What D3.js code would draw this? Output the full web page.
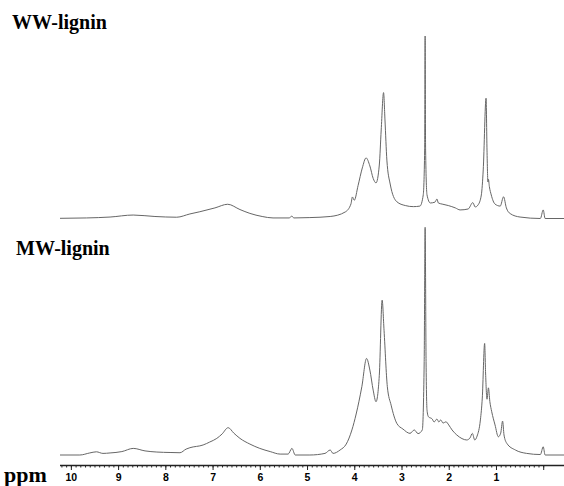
<!DOCTYPE html>
<html>
<head>
<meta charset="utf-8">
<script src="https://cdn.jsdelivr.net/npm/d3@7"></script>
<style>
  body { margin: 0; background: #fff; }
  svg { display: block; }
  .title { font-family: "Liberation Serif", "Times New Roman", serif; font-weight: bold; font-size: 20px; fill: #000; }
  .spec { fill: none; stroke: #666; stroke-width: 1; }
  .axis text { font-family: "Liberation Sans", Arial, sans-serif; font-weight: bold; font-size: 10.5px; }
</style>
</head>
<body>
<svg id="chart" width="564" height="486"></svg>
<script>
// chemical shifts (ppm) and intensities (DMSO peak = 100)
const wwPpm = [10.23, 9.67, 9.17, 8.68, 8.22, 7.76, 7.48, 7.27, 6.95, 6.68, 6.42, 6.21, 5.95, 5.72, 5.38, 5.32, 5.28,
  4.94, 4.51, 4.19, 4.07, 4.04, 4.0, 3.92, 3.83, 3.75, 3.67, 3.6, 3.54, 3.47, 3.43, 3.38, 3.35, 3.31, 3.24, 3.1,
  2.92, 2.75, 2.61, 2.54, 2.51, 2.5, 2.49, 2.46, 2.39, 2.29, 2.25, 2.22, 2.14, 2.01, 1.86, 1.76, 1.59, 1.49, 1.44,
  1.38, 1.31, 1.27, 1.21, 1.19, 1.17, 1.16, 1.14, 1.1, 1.02, 0.91, 0.84, 0.78, 0.7, 0.49, 0.06, 0.0, -0.04, -0.44];
const wwInt = [0.1, 0.3, 0.8, 1.9, 1.1, 0.7, 2.5, 3.7, 5.8, 7.8, 4.9, 2.8, 1.1, 0.3, 0.3, 1.3, 0.3,
  0.5, 1.1, 3.6, 8, 11.8, 10, 18, 27.7, 33.2, 28.8, 22, 19.5, 29.3, 48.5, 69, 54, 32, 18.9, 9.2,
  7.1, 6.5, 6.8, 12.9, 37.5, 100, 37.5, 12.9, 8.5, 9, 10.7, 8.5, 7.9, 7.1, 5.8, 4.7, 5.2, 8.7, 6.3,
  7.4, 12.9, 26.6, 65.9, 37.5, 20, 21.5, 17.5, 12.9, 7.9, 6.8, 11.9, 5.8, 2.7, 0.8, 0, 4.7, 0, 0];

const mwPpm = [10.23, 9.81, 9.6, 9.46, 9.32, 9.17, 8.92, 8.68, 8.43, 8.18, 7.9, 7.69, 7.56, 7.48, 7.2, 7.06, 6.91,
  6.8, 6.67, 6.55, 6.42, 6.21, 6.0, 5.78, 5.57, 5.4, 5.32, 5.25, 4.94, 4.62, 4.51, 4.45, 4.3, 4.17, 4.05, 3.96,
  3.84, 3.74, 3.67, 3.6, 3.54, 3.47, 3.41, 3.37, 3.3, 3.22, 3.1, 2.97, 2.82, 2.73, 2.65, 2.56, 2.52, 2.5, 2.48,
  2.46, 2.43, 2.35, 2.31, 2.25, 2.21, 2.17, 2.12, 2.06, 2.0, 1.93, 1.83, 1.72, 1.62, 1.55, 1.5, 1.45, 1.4, 1.33,
  1.29, 1.24, 1.22, 1.19, 1.16, 1.13, 1.09, 1.02, 0.95, 0.9, 0.86, 0.83, 0.77, 0.59, 0.35, 0.06, 0.0, -0.04, -0.44];
const mwInt = [0, 0, 0.9, 1.4, 0.7, 0.9, 1.5, 2.9, 1.8, 1.3, 1.1, 1.0, 2.6, 3.2, 4.4, 5.7, 7.3,
  9.2, 12, 9.6, 7.3, 4.8, 2.9, 1.5, 0.4, 0.4, 2.9, 0, 0, 0.7, 2.2, 0.7, 2.2, 4.8, 11, 18,
  30, 42.4, 37.3, 28.5, 23.4, 35, 68, 54.8, 30, 21.9, 13.9, 11.4, 9.5, 11, 9.4, 11, 41, 100, 41,
  19.7, 16.8, 15.8, 14.5, 15.8, 14.5, 15.4, 14, 14.6, 13.2, 11, 8.8, 7.2, 6.6, 7.5, 9.5, 6.6, 8.3, 15.4,
  25, 49, 36, 24.5, 29.5, 23.5, 19, 13.2, 8, 9.6, 14.9, 8.8, 5.1, 2.2, 0.7, 0.2, 3.6, 0, 0];

const majorTicks = [10, 9, 8, 7, 6, 5, 4, 3, 2, 1, 0];
const tickLabels = ['10', '9', '8', '7', '6', '5', '4', '3', '2', '1', ''];

const svg = d3.select('#chart');
const x = d3.scaleLinear().domain([10.23, -0.44]).range([60, 564]);

const panels = [
  { name: 'WW-lignin', ppm: wwPpm, val: wwInt, base: 218.5, top: 36, tx: 12, ty: 29 },
  { name: 'MW-lignin', ppm: mwPpm, val: mwInt, base: 455, top: 227.3, tx: 16, ty: 255 }
];

panels.forEach(p => {
  const y = d3.scaleLinear().domain([0, 100]).range([p.base, p.top]);
  const pts = p.ppm.map((d, i) => [d, p.val[i]]);
  const line = d3.line().x(d => x(d[0])).y(d => y(d[1])).curve(d3.curveMonotoneX);
  svg.append('path').attr('class', 'spec').attr('d', line(pts));
  svg.append('text').attr('class', 'title')
    .attr('x', p.tx).attr('y', p.ty).text(p.name);
});

// ppm axis: minor ticks every 0.1, major every 1
const minor = d3.range(0, 103).map(i => +(i / 10).toFixed(1)).filter(d => d >= -0.4);
svg.append('g').attr('transform', 'translate(0,465)')
  .call(d3.axisBottom(x).tickValues(minor).tickSize(2.5).tickFormat(''))
  .call(g => g.select('.domain').remove())
  .selectAll('line').attr('stroke', '#222');

svg.append('g').attr('class', 'axis').attr('transform', 'translate(0,465)')
  .call(d3.axisBottom(x).tickValues(majorTicks).tickSize(5).tickPadding(4)
    .tickFormat((d, i) => tickLabels[i]))
  .call(g => g.select('.domain').attr('d', 'M60,0.5H564').attr('stroke', '#222').attr('stroke-width', 1.4))
  .call(g => g.selectAll('line').attr('stroke', '#222'));

svg.append('text').attr('class', 'title').attr('x', 4).attr('y', 482)
  .style('font-size', '22px').text('ppm');
</script>
</body>
</html>
